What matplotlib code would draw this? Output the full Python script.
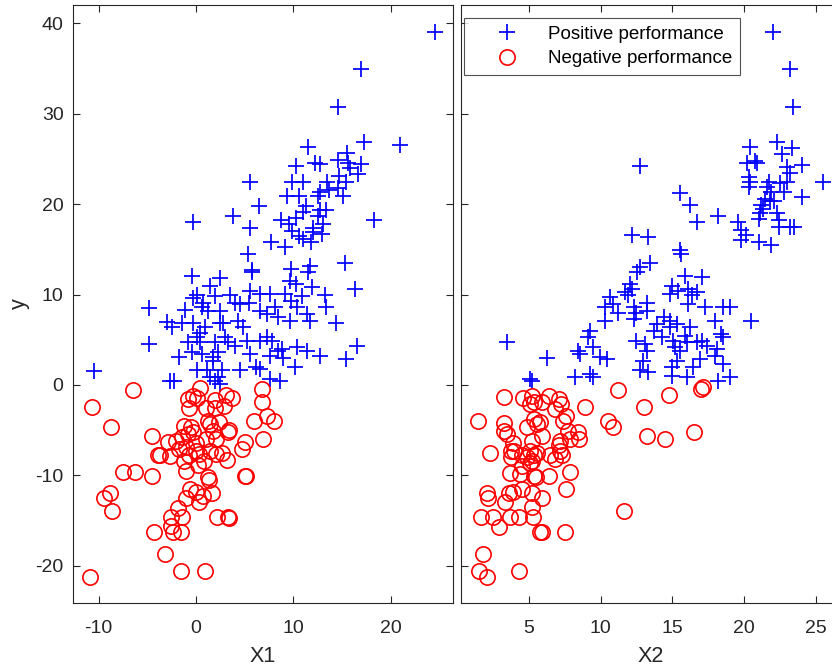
import numpy as np
import matplotlib
matplotlib.use('Agg')
import matplotlib.pyplot as plt

plt.rcParams['font.family'] = ['Liberation Sans', 'DejaVu Sans']
plt.rcParams['axes.unicode_minus'] = False

# Положительные (левая панель: X1, y)
pos_x1 = [24.6, 17.0, 14.6, 11.5, 17.3, 21.0, 15.5, 14.6, 12.2, 12.7, 15.6, 17.0, 10.3, 15.8,
          16.6, 5.5, 9.9, 11.0, 14.7, 13.5, 15.4, 13.7, 12.7, 14.6, 9.3, 10.6, 12.5, 15.1,
          6.5, 3.8, -0.3, 5.5, 8.7, 9.6, 10.3, 11.0, 11.3, 12.7, 13.4, 12.5, 18.3, 13.0,
          12.0, 9.9, 10.6, 12.0, 11.0, 11.8, 12.9, 7.7, 9.1, 5.3, 15.3, 5.8, 9.8, 11.7,
          -4.8, -4.8, -10.5, 13.4, 13.2, 14.4, 16.3, 15.4, 16.5, 11.7, 12.7,
          -0.44, 2.47, 5.7, 9.66, 10.3, 11.5, 11.9, 1.44, 0.07, -0.27, 1.95, 3.5, 5.55, 6.58,
          7.6, 9.15, 9.8, 10.9, 0.75, 0.58, -1.13, 1.27, 2.47, 4.0, 4.5, 5.4, 6.58, 7.27,
          8.1, 8.46, 9.66, 10.35, 11.4, -3.0, -2.5, -1.47, -0.27, 0.4, 0.9, 2.47, 2.8, 4.35,
          4.86, -0.8, 0.07, 0.4, 1.95, 3.0, 3.3, 4.0, 5.2, 6.58, 7.27, 7.8, 8.8, 10.35,
          11.4, -1.8, -0.44, 0.58, 1.78, 2.3, 1.78, 5.55, 7.6, 8.97, 8.46, 0.07, 1.1, 1.44,
          2.3, 2.64, 4.5, 6.2, 6.58, 10.2, 7.6, 8.6, -2.67, -2.26, 1.95, 2.47]
pos_y1 = [39.0, 35.0, 30.8, 26.3, 26.9, 26.5, 25.7, 24.9, 24.6, 24.4, 24.6, 24.4, 24.2, 24.0,
          23.3, 22.5, 22.5, 22.4, 23.1, 22.5, 22.5, 21.6, 21.4, 21.8, 20.9, 20.9, 20.9, 20.9,
          19.8, 18.7, 18.0, 17.4, 18.3, 17.8, 18.5, 19.1, 19.8, 19.3, 19.4, 18.7, 18.2, 17.8,
          17.4, 17.0, 16.5, 16.9, 16.1, 15.8, 16.7, 15.8, 15.3, 14.5, 13.5, 12.7, 12.8, 13.2,
          8.5, 4.5, 1.5, 8.6, 9.9, 6.9, 10.6, 2.9, 4.3, 7.1, 3.2,
          12.0, 11.8, 12.5, 11.5, 11.2, 12.5, 10.8, 10.9, 10.0, 9.6, 9.8, 10.0, 10.4, 10.1,
          10.1, 10.1, 9.3, 9.8, 9.1, 8.6, 8.3, 8.2, 8.2, 9.1, 9.0, 9.1, 8.2, 7.9,
          8.6, 7.5, 7.1, 8.6, 7.9, 7.0, 6.4, 6.9, 6.9, 5.7, 6.4, 6.9, 6.8, 7.1,
          6.4, 4.7, 5.3, 4.7, 4.7, 5.3, 4.7, 4.35, 4.9, 4.9, 5.3, 4.9, 4.0, 4.2,
          3.8, 3.1, 3.6, 3.4, 3.1, 3.6, 2.7, 3.4, 3.2, 3.0, 3.8, 1.6, 1.6, 0.84,
          0.84, 1.6, 1.6, 1.95, 1.8, 1.95, 0.66, 0.48, 0.48, 0.48, 0.48, 0.1]

# Отрицательные (левая панель)
neg_x1 = [-6.5, -10.7, -8.7, -4.5, 0.45, -0.86, -0.34, 0.07, -0.7, 1.03, 1.9, 1.9, 2.9, 3.1,
          3.7, 6.75, 6.75, 7.3, 8.0, 6.0, 6.9, 5.0, 4.7, 1.2, 1.4, 2.4, -1.2, -0.5,
          -0.86, -0.3, 3.4, 3.3, 2.06, 1.03, -2.9, -2.06, -1.4, 0.0, -1.7, -1.0, -3.7, -3.9,
          -2.7, -0.7, 0.0, 0.34, 0.86, 0.17, 1.4, 2.06, 2.7, 3.2, -1.2, -1.0, -7.5, -6.3,
          -4.5, 5.0, 5.1, 1.2, 1.3, -0.6, 0.0, 0.7, 0.27, 1.65, -1.0, -8.8, -9.5, -8.6,
          -1.9, -2.6, -1.4, -2.6, -2.4, -1.5, -4.35, 2.2, 3.3, 3.4, -3.15, -1.5, 0.96, -10.9,
          1.7]
neg_y1 = [-0.6, -2.4, -4.6, -5.6, -0.3, -1.55, -1.2, -1.4, -2.5, -2.5, -1.7, -2.5, -2.3, -1.1,
          -1.4, -0.44, -1.9, -3.4, -4.0, -4.0, -6.0, -6.3, -7.1, -4.0, -4.3, -4.1, -4.5, -4.7,
          -5.4, -5.2, -5.0, -5.2, -6.0, -6.0, -6.3, -6.2, -5.8, -6.4, -7.1, -6.9, -7.8, -7.8,
          -7.9, -7.8, -7.3, -7.65, -8.4, -8.9, -7.3, -7.65, -7.5, -8.3, -8.4, -9.5, -9.6, -9.6,
          -10.1, -10.1, -10.1, -10.2, -10.5, -11.5, -11.9, -12.3, -13.0, -12.0, -12.5, -12.0, -12.5, -14.0,
          -13.6, -14.6, -14.6, -15.6, -16.3, -16.3, -16.3, -14.6, -14.6, -14.7, -18.7, -20.6, -20.6, -21.3,
          -5.1]

# Положительные (правая панель: X2, y)
pos_x2 = [22.0, 23.2, 23.4, 12.75, 20.4, 22.3, 23.3, 22.6, 20.2, 20.75, 20.9, 23.0, 24.0, 23.2,
          20.3, 20.4, 20.3, 21.7, 22.5, 23.0, 25.5, 21.9, 22.8, 24.0, 21.45, 21.8, 22.1, 21.2,
          21.3, 21.1, 21.0, 22.3, 22.4, 15.5, 16.2, 16.7, 18.2, 19.6, 19.8, 20.1, 19.8, 21.0,
          21.9, 22.4, 23.2, 23.5, 12.2, 13.3, 15.5, 21.6,
          15.6, 12.75, 13.45, 6.3, 3.5, 5.1, 5.2, 8.2, 20.5, 19.0, 19.0,
          12.52, 15.88, 17.05, 12.05, 12.17, 11.7, 11.94, 14.96, 15.4, 14.84, 16.1, 16.35, 16.7, 10.66,
          10.9, 11.24, 10.3, 10.3, 12.3, 12.5, 13.2, 13.2, 12.3, 14.4, 13.9, 14.84, 14.84, 15.3,
          16.1, 17.3, 18.0, 18.55, 16.2, 15.9, 16.0, 15.07, 15.2, 15.5, 16.7, 17.05, 17.4, 18.1,
          18.4, 18.55, 18.0, 18.55, 16.9, 16.46, 15.3, 14.96, 14.96, 16.0, 18.2, 12.5, 13.1, 13.2,
          12.98, 12.75, 13.3, 8.45, 8.57, 9.27, 9.15, 9.5, 9.97, 10.43, 9.27, 9.5, 13.7, 14.26]
pos_y2 = [39.0, 35.0, 30.7, 24.2, 26.3, 26.9, 26.2, 25.6, 24.6, 24.8, 24.6, 24.1, 24.3, 23.4,
          23.0, 22.4, 21.9, 22.5, 22.3, 22.5, 22.4, 21.4, 21.4, 20.8, 20.6, 20.3, 20.4, 19.9,
          19.5, 19.0, 18.4, 19.0, 18.2, 21.2, 19.9, 18.0, 18.7, 18.0, 17.1, 16.6, 16.0, 15.8,
          15.5, 17.5, 17.5, 17.5, 16.6, 16.4, 14.9, 21.9,
          14.5, 13.1, 13.5, 3.0, 4.7, 0.7, 0.4, 0.9, 7.1, 0.9, 8.6,
          12.46, 12.1, 11.9, 11.2, 10.6, 10.25, 9.9, 11.0, 10.4, 10.1, 10.6, 9.9, 10.25, 9.7,
          9.0, 8.0, 8.6, 7.1, 8.6, 8.0, 9.1, 8.2, 7.3, 7.5, 6.75, 7.1, 6.4, 6.75,
          9.0, 8.6, 7.1, 8.6, 6.4, 5.45, 4.7, 4.9, 4.2, 3.8, 4.7, 4.9, 4.35, 4.0,
          5.6, 5.3, 3.2, 2.3, 2.9, 1.95, 2.7, 1.95, 1.0, 0.84, 0.48, 4.9, 4.5, 3.8,
          2.7, 1.6, 1.4, 3.8, 3.4, 6.0, 5.3, 4.2, 3.05, 2.9, 1.2, 0.84, 6.0, 5.3]

# Отрицательные (правая панель)
neg_x2 = [3.3, 4.6, 5.2, 5.1, 5.4, 5.9, 6.4, 7.1, 7.25, 6.8, 7.6, 7.4, 8.9, 11.2,
          13.0, 14.8, 17.0, 17.1, 10.5, 10.9, 13.2, 14.5, 16.5, 1.5, 3.3, 3.3, 3.5, 4.86,
          5.4, 5.6, 5.8, 5.9, 5.2, 5.1, 3.9, 4.0, 3.8, 2.3, 4.5, 4.86, 5.4, 5.2,
          5.6, 6.5, 6.85, 7.2, 7.3, 7.1, 7.2, 7.7, 8.4, 8.5, 3.7, 4.4, 5.4, 5.5,
          6.4, 7.9, 7.6, 2.1, 2.2, 3.6, 3.35, 3.9, 4.5, 5.2, 5.9, 5.2, 1.7, 2.5,
          3.7, 4.3, 5.3, 2.95, 5.8, 5.95, 7.5, 11.65, 1.8, 1.55, 2.1, 4.3, 5.1, 4.5,
          3.8, 7.9]
neg_y2 = [-1.3, -1.4, -1.2, -2.1, -1.9, -1.9, -1.2, -1.55, -2.1, -2.7, -3.4, -4.0, -2.4, -0.6,
          -2.4, -1.1, -0.44, -0.26, -4.0, -4.6, -5.6, -6.0, -5.25, -4.0, -4.25, -5.1, -5.4, -4.7,
          -3.8, -4.3, -4.1, -5.6, -6.25, -7.3, -6.4, -7.3, -8.0, -7.5, -7.8, -8.0, -7.8, -8.4,
          -7.5, -7.8, -8.2, -7.3, -7.8, -6.7, -6.2, -5.1, -5.25, -6.0, -9.7, -9.9, -10.1, -10.2,
          -10.1, -9.6, -11.5, -12.0, -12.5, -12.0, -13.0, -11.9, -11.5, -12.0, -12.5, -13.5, -14.6, -14.6,
          -14.6, -14.6, -14.6, -15.7, -16.3, -16.3, -16.3, -14.0, -18.7, -20.6, -21.3, -20.6, -8.6, -8.95,
          -7.3, -6.0]

axis_color = '#262626'
fig = plt.figure(figsize=(8.32, 6.71), dpi=100)
ax1 = fig.add_axes([0.0881, 0.1013, 0.4560, 0.8916])
ax2 = fig.add_axes([0.5545, 0.1013, 0.4560, 0.8916])

panels = [(ax1, pos_x1, pos_y1, neg_x1, neg_y1), (ax2, pos_x2, pos_y2, neg_x2, neg_y2)]
for ax, px, py, nx, ny in panels:
    ax.plot(px, py, linestyle='none', marker='+', color='blue', ms=11.5, mew=1.25,
            label='Positive performance')
    ax.plot(nx, ny, linestyle='none', marker='o', color='red', mfc='none', ms=11, mew=1.2,
            label='Negative performance')
    ax.set_ylim(-24.13, 42.06)
    ax.set_yticks([-20, -10, 0, 10, 20, 30, 40])
    ax.tick_params(direction='in', top=True, right=True, length=5, width=0.8,
                   colors=axis_color, labelsize=14)
    ax.tick_params(axis='x', pad=12)
    ax.tick_params(axis='y', pad=7)
    for s in ax.spines.values():
        s.set_color(axis_color)
        s.set_linewidth(0.8)

ax1.set_xlim(-12.61, 26.37)
ax1.set_xticks([-10, 0, 10, 20])
ax1.set_xlabel('X1', fontsize=15.5, color=axis_color, labelpad=7)
ax1.set_ylabel('y', fontsize=15.5, color=axis_color, labelpad=4)

ax2.set_xlim(0.31, 26.72)
ax2.set_xticks([5, 10, 15, 20, 25])
ax2.tick_params(labelleft=False)
ax2.set_xlabel('X2', fontsize=15.5, color=axis_color, labelpad=7)

leg = ax2.legend(loc='upper left', bbox_to_anchor=(0.007, 0.978), borderaxespad=0,
                 fontsize=13.5, frameon=True, fancybox=False, edgecolor=axis_color,
                 handlelength=3.8, handletextpad=0.3, borderpad=0.4, labelspacing=0.4)
leg.get_frame().set_linewidth(0.8)

fig.savefig('out.png', dpi=100)
